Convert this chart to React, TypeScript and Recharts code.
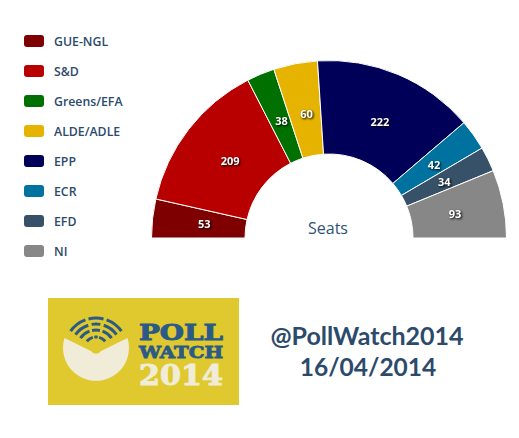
import { Legend, Pie, PieChart } from "recharts"

const parties = ["GUE-NGL", "S&D", "Greens/EFA", "ALDE/ADLE", "EPP", "ECR", "EFD", "NI"]
const seats = [53, 209, 38, 60, 222, 42, 34, 93]
const colors = ["#7f0000", "#b80000", "#007000", "#e6b400", "#000059", "#0072a0", "#375168", "#878787"]

const chartData = parties.map((name, i) => ({ name, seats: seats[i], fill: colors[i] }))

const RAD = Math.PI / 180
const textBlue = "#2c4a6b"

function renderLabel(props: any) {
  const r = 127
  const x = props.cx + 1.5 + r * Math.cos(-props.midAngle * RAD)
  const y = props.cy + r * Math.sin(-props.midAngle * RAD)
  return (
    <text
      x={x}
      y={y}
      fill="#fff"
      textAnchor="middle"
      dominantBaseline="central"
      style={{
        fontFamily: "'Open Sans', sans-serif",
        fontSize: 11,
        fontWeight: 700,
        filter: "drop-shadow(1px 1px 1px #000)",
      }}
    >
      {props.value}
    </text>
  )
}

function PartyLegend() {
  return (
    <div>
      {parties.map((name, i) => (
        <div key={name} style={{ display: "flex", alignItems: "center", height: 30 }}>
          <div style={{ width: 20, height: 12, borderRadius: 3, background: colors[i], marginRight: 10 }} />
          <span
            style={{
              fontFamily: "'Open Sans', sans-serif",
              fontSize: 12.3,
              fontWeight: 600,
              color: textBlue,
            }}
          >
            {name}
          </span>
        </div>
      ))}
    </div>
  )
}

// three dashes of one signal arc of the logo
function SignalArc({ r, spans }: { r: number; spans: number[][] }) {
  const cx = 96
  const cy = 349
  return (
    <>
      {spans.map(([a, b]) => (
        <path
          key={a}
          d={`M${cx + r * Math.cos(a * RAD)} ${cy + r * Math.sin(a * RAD)} A${r} ${r} 0 0 1 ${cx + r * Math.cos(b * RAD)} ${cy + r * Math.sin(b * RAD)}`}
          fill="none"
          stroke="#2b5a86"
          strokeWidth={3}
        />
      ))}
    </>
  )
}

function Logo() {
  const serif = { fontFamily: "'DejaVu Serif', serif", fontWeight: 700 }
  return (
    <svg width={519} height={438} style={{ position: "absolute", left: 0, top: 0 }}>
      <rect x={48} y={298} width={191} height={107} fill="#dfc92f" />
      <path
        d="M64.5 338 L91 351 A6 6 0 0 0 101 351 L127.5 338 A33 33 0 1 1 64.5 338 Z"
        fill="#f0ecd8"
      />
      <SignalArc r={31} spans={[[-145, -110], [-104, -76], [-70, -35]]} />
      <SignalArc r={25} spans={[[-145, -108], [-100, -80], [-72, -35]]} />
      <SignalArc r={19} spans={[[-145, -110], [-102, -78], [-70, -35]]} />
      <SignalArc r={12} spans={[[-140, -105], [-98, -82], [-75, -40]]} />
      <text x={139} y={340} textLength={84} lengthAdjust="spacingAndGlyphs" fontSize={23} fill="#2b5a86" stroke="#2b5a86" strokeWidth={1} style={serif}>
        POLL
      </text>
      <text x={139} y={358} textLength={84} lengthAdjust="spacingAndGlyphs" fontSize={16} fill="#2b5a86" stroke="#2b5a86" strokeWidth={0.8} style={serif}>
        WATCH
      </text>
      <text x={139} y={385} textLength={84} lengthAdjust="spacingAndGlyphs" fontSize={27} fill="#f0ecd8" stroke="#f0ecd8" strokeWidth={1} style={serif}>
        2014
      </text>
      <text x={367} y={345} textAnchor="middle" fontSize={25} fill={textBlue} style={{ fontFamily: "Lato, sans-serif", fontWeight: 700 }}>
        @PollWatch2014
      </text>
      <text x={368} y={376} textAnchor="middle" fontSize={24.5} fill={textBlue} style={{ fontFamily: "Lato, sans-serif", fontWeight: 700 }}>
        16/04/2014
      </text>
      <text x={328} y={234} textAnchor="middle" fontSize={16} fill="#2f5377" style={{ fontFamily: "'Open Sans', sans-serif" }}>
        Seats
      </text>
    </svg>
  )
}

export default function App() {
  return (
    <div style={{ position: "absolute", left: 0, top: 0, width: 519, height: 438, background: "#fff" }}>
      <PieChart width={519} height={438} margin={{ top: 0, right: 0, bottom: 0, left: 0 }}>
        <Pie
          data={chartData}
          dataKey="seats"
          nameKey="name"
          cx={329}
          cy={238}
          startAngle={180}
          endAngle={0}
          innerRadius={84}
          outerRadius={177.5}
          stroke="#fff"
          strokeWidth={1}
          label={renderLabel}
          labelLine={false}
          isAnimationActive={false}
        />
        <Legend content={PartyLegend} wrapperStyle={{ position: "absolute", left: 24, top: 26, width: 120, bottom: "auto" }} />
      </PieChart>
      <Logo />
    </div>
  )
}
